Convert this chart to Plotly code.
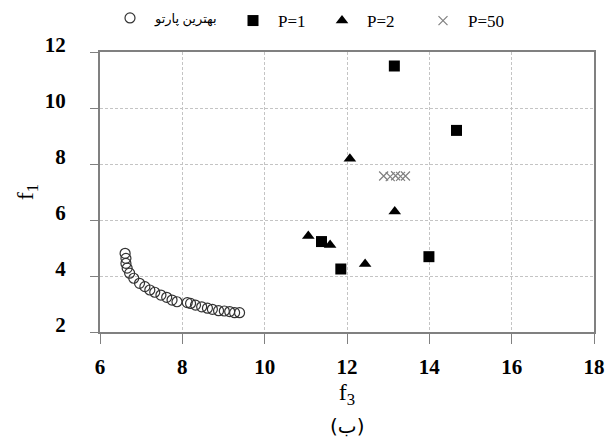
import plotly.graph_objects as go

# Best Pareto front
pareto_f3 = [6.61, 6.63, 6.63, 6.66, 6.72, 6.82, 6.96, 7.09, 7.21, 7.33, 7.48, 7.62, 7.75, 7.87,
             8.12, 8.2, 8.32, 8.47, 8.61, 8.73, 8.88, 9.02, 9.15, 9.27, 9.39]
pareto_f1 = [4.81, 4.63, 4.45, 4.28, 4.10, 3.92, 3.74, 3.62, 3.50, 3.42, 3.32, 3.24, 3.14, 3.08,
             3.05, 3.02, 2.96, 2.90, 2.85, 2.81, 2.76, 2.75, 2.73, 2.69, 2.69]
# P=1
p1_f3 = [13.15, 14.66, 11.38, 11.85, 13.99]
p1_f1 = [11.5, 9.2, 5.23, 4.25, 4.69]
# P=2
p2_f3 = [12.07, 13.16, 11.06, 11.59, 12.44]
p2_f1 = [8.19, 6.30, 5.43, 5.11, 4.43]
# P=50
p50_f3 = [12.89, 13.05, 13.18, 13.30, 13.42]
p50_f1 = [7.57, 7.55, 7.58, 7.56, 7.57]

x_ticks = [6, 8, 10, 12, 14, 16, 18]
y_ticks = [2, 4, 6, 8, 10, 12]

serif = "Liberation Serif, DejaVu Serif, DejaVu Sans"

fig = go.Figure()
fig.add_trace(go.Scatter(x=pareto_f3, y=pareto_f1, mode="markers", name="بهترین پارتو",
                         marker=dict(symbol="circle-open", size=10, color="#333333",
                                     line=dict(width=1.2, color="#333333")),
                         legend="legend"))
fig.add_trace(go.Scatter(x=p1_f3, y=p1_f1, mode="markers", name="P=1",
                         marker=dict(symbol="square", size=11, color="black"),
                         legend="legend2"))
fig.add_trace(go.Scatter(x=p2_f3, y=p2_f1, mode="markers", name="P=2",
                         marker=dict(symbol="triangle-up", size=11, color="black"),
                         legend="legend3"))
fig.add_trace(go.Scatter(x=p50_f3, y=p50_f1, mode="markers", name="P=50",
                         marker=dict(symbol="x-thin-open", size=9, color="#808080",
                                     line=dict(width=1.2, color="#808080")),
                         legend="legend4"))

def leg(xpx, size):
    return dict(x=(xpx - 100) / 494, y=1 + (52 - 3) / 280, xanchor="left", yanchor="top",
                orientation="h", bgcolor="rgba(0,0,0,0)", itemwidth=40,
                font=dict(family=serif, size=size, color="black"))

grid = "#c4c4c4"
fig.update_layout(
    width=607, height=443,
    margin=dict(l=100, r=13, t=52, b=111, autoexpand=False),
    paper_bgcolor="white", plot_bgcolor="white",
    showlegend=True,
    legend=leg(105, 13), legend2=leg(228, 17), legend3=leg(317, 17), legend4=leg(418, 17),
    xaxis=dict(range=[6, 18], tickvals=x_ticks, ticktext=[str(v) for v in x_ticks],
               showgrid=True, gridcolor=grid, griddash="3px,2px", gridwidth=1,
               showline=True, linecolor="#808080", linewidth=2, mirror=True,
               ticks="outside", ticklen=10, tickcolor="#808080", tickwidth=1,
               ticklabelstandoff=5,
               tickfont=dict(family=serif, size=21, color="black", weight="bold"),
               title=dict(text="f<sub>3</sub>", font=dict(family=serif, size=24, color="black"),
                          standoff=0),
               zeroline=False),
    yaxis=dict(range=[2, 12], tickvals=y_ticks, ticktext=[str(v) for v in y_ticks],
               showgrid=True, gridcolor=grid, griddash="3px,2px", gridwidth=1,
               showline=True, linecolor="#808080", linewidth=2, mirror=True,
               ticks="outside", ticklen=8, tickcolor="#808080", tickwidth=1,
               ticklabelstandoff=20, ticklabelshift=-7,
               tickfont=dict(family=serif, size=21, color="black", weight="bold"),
               title=dict(text="f<sub>1</sub>", font=dict(family=serif, size=24, color="black"),
                          standoff=4),
               zeroline=False),
    annotations=[dict(text="(ب)", xref="paper", yref="paper", x=0.5, y=-0.335,
                      xanchor="center", yanchor="middle", showarrow=False,
                      font=dict(family="DejaVu Sans, Liberation Sans", size=20, color="black"))],
)

fig.write_html("out.html")
